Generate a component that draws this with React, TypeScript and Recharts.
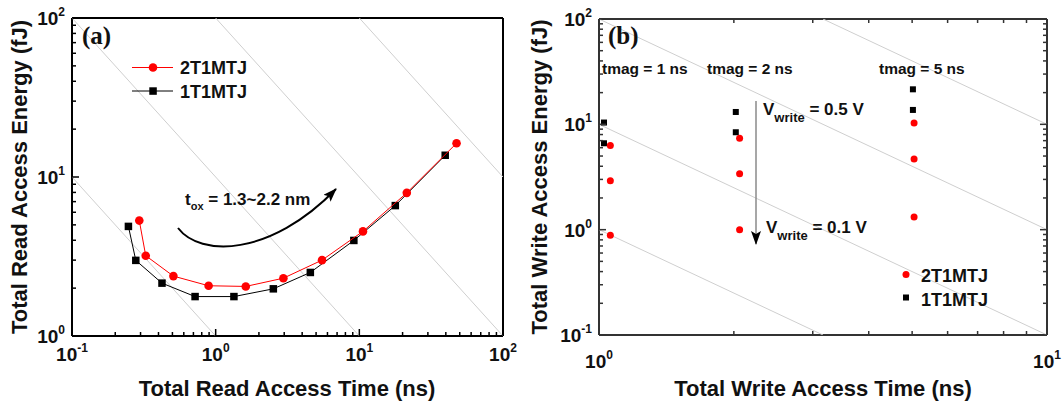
import React from 'react';
import { ScatterChart, Scatter, XAxis, YAxis } from 'recharts';

// panel (a): read access, tox sweep 1.3~2.2 nm
const readTime2T = [0.294, 0.326, 0.508, 0.893, 1.62, 2.96, 5.5, 10.6, 21.4, 47.5];
const readEnergy2T = [5.32, 3.2, 2.38, 2.07, 2.05, 2.31, 3.0, 4.55, 7.95, 16.3];
const readTime1T = [0.247, 0.278, 0.423, 0.719, 1.34, 2.52, 4.56, 9.16, 17.8, 39.6];
const readEnergy1T = [4.89, 2.99, 2.15, 1.77, 1.77, 1.98, 2.51, 3.99, 6.61, 13.7];

// panel (b): write access, tmag = 1 / 2 / 5 ns, Vwrite 0.5 -> 0.1 V
const writeTime2T = [1.06, 1.06, 1.06, 2.06, 2.06, 2.06, 5.05, 5.05, 5.05];
const writeEnergy2T = [6.28, 2.92, 0.885, 7.38, 3.4, 1.0, 10.3, 4.69, 1.32];
const writeTime1T = [1.026, 1.026, 2.02, 2.02, 5.02, 5.02];
const writeEnergy1T = [10.4, 6.61, 13.1, 8.41, 21.5, 13.7];

// gray guide lines: energy * time^k = const
const readGuideProducts = [1, 10, 100, 1000];
const writeGuideProducts = [1, 10, 100, 1000];

const readTimeTicks = [0.1, 0.2, 0.3, 0.4, 0.5, 0.6, 0.7, 0.8, 0.9, 1, 2, 3, 4, 5, 6, 7, 8, 9, 10, 20, 30, 40, 50, 60, 70, 80, 90, 100];
const readEnergyTicks = [1, 2, 3, 4, 5, 6, 7, 8, 9, 10, 20, 30, 40, 50, 60, 70, 80, 90, 100];
const writeTimeTicks = [1, 2, 3, 4, 5, 6, 7, 8, 9, 10];
const writeEnergyTicks = [0.1, 0.2, 0.3, 0.4, 0.5, 0.6, 0.7, 0.8, 0.9, 1, 2, 3, 4, 5, 6, 7, 8, 9, 10, 20, 30, 40, 50, 60, 70, 80, 90, 100];

const tmagLabels = ['tmag = 1 ns', 'tmag = 2 ns', 'tmag = 5 ns'];
const seriesNames = ['2T1MTJ', '1T1MTJ'];

const FONT = "Arial, 'Liberation Sans', Helvetica, sans-serif";
const RED = '#ff0000';
const GUIDE = '#cfcfcf';

// plot rectangles (page px), shared by the chart margins and the frame tick overlay
const boxA = { left: 72, right: 503, top: 18, bottom: 336, xd: [0.1, 100], yd: [1, 100] };
const boxB = { left: 599, right: 1047, top: 19, bottom: 335, xd: [1, 10], yd: [0.1, 100] };

const toPoints = (ts: number[], es: number[]) => ts.map((t, i) => ({ t, e: es[i] }));

function guideSegment(c: number, k: number, xd: number[], yd: number[]) {
  const lc = Math.log10(c);
  const sx = Math.max(Math.log10(xd[0]), (lc - Math.log10(yd[1])) / k);
  const ex = Math.min(Math.log10(xd[1]), (lc - Math.log10(yd[0])) / k);
  if (ex <= sx) return [];
  return [sx, ex].map((lx) => ({ t: 10 ** lx, e: 10 ** (lc - k * lx) }));
}

const isDecade = (v: number) => Math.abs(Math.log10(v) - Math.round(Math.log10(v))) < 1e-6;

// 10^n labels for the decades
function makeLabel(side: string, dy: number) {
  return (p: any) => {
    const v = p.payload.value;
    if (!isDecade(v)) return <g />;
    const exp = Math.round(Math.log10(v));
    const bottom = side === 'bottom';
    return (
      <text x={bottom ? p.x : p.x - 7} y={bottom ? p.y + dy : p.y + 7} textAnchor={bottom ? 'middle' : 'end'}
        fontFamily={FONT} fontWeight="bold" fontSize={19} fill="#111">
        10<tspan dy={-9} fontSize={12}>{exp}</tspan>
      </text>
    );
  };
}

const noShape = () => <g />;
const circleShape = (r: number) => (p: any) => <circle cx={p.cx} cy={p.cy} r={r} fill={RED} />;
const squareShape = (s: number) => (p: any) => <rect x={p.cx - s / 2} y={p.cy - s / 2} width={s} height={s} fill="#000" />;

function ReadPanel() {
  const { xd, yd } = boxA;
  const ax = '#000';
  return (
    <ScatterChart width={530} height={404}
      margin={{ top: boxA.top - 10, right: 530 - boxA.right - 10, bottom: 404 - boxA.bottom - 30, left: boxA.left - 40 }}>
      <XAxis xAxisId="m" type="number" dataKey="t" scale="log" domain={xd} allowDataOverflow ticks={readTimeTicks} interval={0}
        height={30} tickSize={0} tickMargin={0} tickLine={false}
        axisLine={{ stroke: ax, strokeWidth: 2 }} tick={makeLabel('bottom', 25)} />
      <XAxis xAxisId="top" orientation="top" type="number" scale="log" domain={xd} allowDataOverflow height={10}
        tick={false} tickLine={false} axisLine={{ stroke: ax, strokeWidth: 2 }} />
      <YAxis yAxisId="m" type="number" dataKey="e" scale="log" domain={yd} allowDataOverflow ticks={readEnergyTicks} interval={0}
        width={40} tickSize={0} tickMargin={0} tickLine={false}
        axisLine={{ stroke: ax, strokeWidth: 2 }} tick={makeLabel('left', 0)} />
      <YAxis yAxisId="right" orientation="right" type="number" scale="log" domain={yd} allowDataOverflow width={10}
        tick={false} tickLine={false} axisLine={{ stroke: ax, strokeWidth: 2 }} />
      {readGuideProducts.map((c) => (
        <Scatter key={c} xAxisId="m" yAxisId="m" data={guideSegment(c, 1, xd, yd)} line={{ stroke: GUIDE, strokeWidth: 1 }}
          shape={noShape} isAnimationActive={false} />
      ))}
      <Scatter name={seriesNames[1]} xAxisId="m" yAxisId="m" data={toPoints(readTime1T, readEnergy1T)}
        line={{ stroke: '#000', strokeWidth: 1 }} shape={squareShape(7.5)} isAnimationActive={false} />
      <Scatter name={seriesNames[0]} xAxisId="m" yAxisId="m" data={toPoints(readTime2T, readEnergy2T)}
        line={{ stroke: RED, strokeWidth: 1 }} shape={circleShape(4.3)} isAnimationActive={false} />
    </ScatterChart>
  );
}

function WritePanel() {
  const { xd, yd } = boxB;
  const ax = '#333';
  return (
    <ScatterChart width={534} height={404}
      margin={{ top: boxB.top - 10, right: 1064 - boxB.right - 10, bottom: 404 - boxB.bottom - 30, left: boxB.left - 530 - 40 }}>
      <XAxis xAxisId="m" type="number" dataKey="t" scale="log" domain={xd} allowDataOverflow ticks={writeTimeTicks} interval={0}
        height={30} tickSize={0} tickMargin={0} tickLine={false} axisLine={{ stroke: ax, strokeWidth: 2 }} tick={makeLabel('bottom', 33)} />
      <XAxis xAxisId="top" orientation="top" type="number" scale="log" domain={xd} allowDataOverflow height={10}
        tick={false} tickLine={false} axisLine={{ stroke: ax, strokeWidth: 2 }} />
      <YAxis yAxisId="m" type="number" dataKey="e" scale="log" domain={yd} allowDataOverflow ticks={writeEnergyTicks} interval={0}
        width={40} tickSize={0} tickMargin={0} tickLine={false} axisLine={{ stroke: ax, strokeWidth: 2 }} tick={makeLabel('left', 0)} />
      <YAxis yAxisId="right" orientation="right" type="number" scale="log" domain={yd} allowDataOverflow width={10}
        tick={false} tickLine={false} axisLine={{ stroke: ax, strokeWidth: 2 }} />
      {writeGuideProducts.map((c) => (
        <Scatter key={c} xAxisId="m" yAxisId="m" data={guideSegment(c, 2, xd, yd)} line={{ stroke: GUIDE, strokeWidth: 1 }}
          shape={noShape} isAnimationActive={false} />
      ))}
      <Scatter name={seriesNames[1]} xAxisId="m" yAxisId="m" data={toPoints(writeTime1T, writeEnergy1T)}
        shape={squareShape(6)} isAnimationActive={false} />
      <Scatter name={seriesNames[0]} xAxisId="m" yAxisId="m" data={toPoints(writeTime2T, writeEnergy2T)}
        shape={circleShape(3.5)} isAnimationActive={false} />
    </ScatterChart>
  );
}

// inward log tick marks on the frame (long on decades)
function FrameTicks({ box, xTicks, yTicks, sides, color }: any) {
  const lx0 = Math.log10(box.xd[0]);
  const lx1 = Math.log10(box.xd[1]);
  const ly0 = Math.log10(box.yd[0]);
  const ly1 = Math.log10(box.yd[1]);
  const fx = (v: number) => box.left + ((Math.log10(v) - lx0) / (lx1 - lx0)) * (box.right - box.left);
  const fy = (v: number) => box.bottom - ((Math.log10(v) - ly0) / (ly1 - ly0)) * (box.bottom - box.top);
  const len = (v: number) => (isDecade(v) ? 7 : 4);
  const out: any[] = [];
  sides.forEach((s: string) => {
    if (s === 'bottom' || s === 'top') {
      const y0 = s === 'bottom' ? box.bottom : box.top;
      const dir = s === 'bottom' ? -1 : 1;
      xTicks.forEach((v: number) => {
        const x = fx(v);
        out.push(<line key={s + v} x1={x} x2={x} y1={y0} y2={y0 + dir * len(v)} stroke={color} strokeWidth={1.5} />);
      });
    } else {
      const x0 = s === 'left' ? box.left : box.right;
      const dir = s === 'left' ? 1 : -1;
      yTicks.forEach((v: number) => {
        const y = fy(v);
        out.push(<line key={s + v} x1={x0} x2={x0 + dir * len(v)} y1={y} y2={y} stroke={color} strokeWidth={1.5} />);
      });
    }
  });
  return <g>{out}</g>;
}

function Annotations() {
  const txt = { fontFamily: FONT, fontWeight: 'bold' as const, fill: '#111' };
  return (
    <svg width={1064} height={404} style={{ position: 'absolute', left: 0, top: 0, pointerEvents: 'none' }}>
      <defs>
        <marker id="head" markerUnits="userSpaceOnUse" markerWidth={14} markerHeight={10} refX={13} refY={5} orient="auto">
          <path d="M0,0 L14,5 L0,10 L3,5 z" fill="#000" />
        </marker>
      </defs>
      <FrameTicks box={boxA} xTicks={readTimeTicks} yTicks={readEnergyTicks} sides={['bottom', 'left']} color="#000" />
      <FrameTicks box={boxB} xTicks={writeTimeTicks} yTicks={writeEnergyTicks} sides={['bottom', 'top', 'left', 'right']} color="#333" />
      {/* axis titles */}
      <text x={287} y={396} textAnchor="middle" fontSize={22} {...txt}>Total Read Access Time (ns)</text>
      <text x={823} y={396} textAnchor="middle" fontSize={22} {...txt}>Total Write Access Time (ns)</text>
      <text transform="translate(27,177) rotate(-90)" textAnchor="middle" fontSize={22} {...txt}>Total Read Access Energy (fJ)</text>
      <text transform="translate(547,177) rotate(-90)" textAnchor="middle" fontSize={22} {...txt}>Total Write Access Energy (fJ)</text>
      {/* panel tags */}
      <text x={82} y={44} fontFamily="'Liberation Serif', 'Times New Roman', serif" fontWeight="bold" fontSize={25} fill="#111">(a)</text>
      <text x={608} y={44} fontFamily="'Liberation Serif', 'Times New Roman', serif" fontWeight="bold" fontSize={25} fill="#111">(b)</text>
      {/* legend (a) */}
      <line x1={132} x2={173} y1={67.5} y2={67.5} stroke={RED} strokeWidth={1} />
      <circle cx={153} cy={67.5} r={4.3} fill={RED} />
      <text x={180} y={74} fontSize={18} {...txt}>{seriesNames[0]}</text>
      <line x1={132} x2={173} y1={91} y2={91} stroke="#000" strokeWidth={1} />
      <rect x={149.3} y={87.3} width={7.5} height={7.5} fill="#000" />
      <text x={180} y={97.5} fontSize={18} {...txt}>{seriesNames[1]}</text>
      {/* tox annotation */}
      <text x={185} y={205} fontSize={17} {...txt}>
        t<tspan dy={5} fontSize={11}>ox</tspan><tspan dy={-5}> = 1.3~2.2 nm</tspan>
      </text>
      <path d="M178,228 C200,257 270,257 336,189" fill="none" stroke="#000" strokeWidth={2} markerEnd="url(#head)" />
      {/* panel (b) annotations */}
      <text x={602} y={74} fontSize={15.5} {...txt}>{tmagLabels[0]}</text>
      <text x={707} y={74} fontSize={15.5} {...txt}>{tmagLabels[1]}</text>
      <text x={879} y={74} fontSize={15.5} {...txt}>{tmagLabels[2]}</text>
      <line x1={756} x2={756} y1={101} y2={244} stroke="#8a8a8a" strokeWidth={1.5} markerEnd="url(#head)" />
      <text x={763} y={115} fontSize={17} {...txt}>
        V<tspan dy={7} fontSize={13}>write</tspan><tspan dy={-7}> = 0.5 V</tspan>
      </text>
      <text x={766} y={233} fontSize={17} {...txt}>
        V<tspan dy={7} fontSize={13}>write</tspan><tspan dy={-7}> = 0.1 V</tspan>
      </text>
      {/* legend (b) */}
      <circle cx={906} cy={274.5} r={3.5} fill={RED} />
      <text x={921} y={282} fontSize={18} {...txt}>{seriesNames[0]}</text>
      <rect x={903} y={294.5} width={6} height={6} fill="#000" />
      <text x={921} y={305.5} fontSize={18} {...txt}>{seriesNames[1]}</text>
    </svg>
  );
}

export default function App() {
  return (
    <div style={{ position: 'absolute', left: 0, top: 0, width: 1064, height: 404, background: '#fff' }}>
      <div style={{ position: 'absolute', left: 0, top: 0 }}>
        <ReadPanel />
      </div>
      <div style={{ position: 'absolute', left: 530, top: 0 }}>
        <WritePanel />
      </div>
      <Annotations />
    </div>
  );
}
